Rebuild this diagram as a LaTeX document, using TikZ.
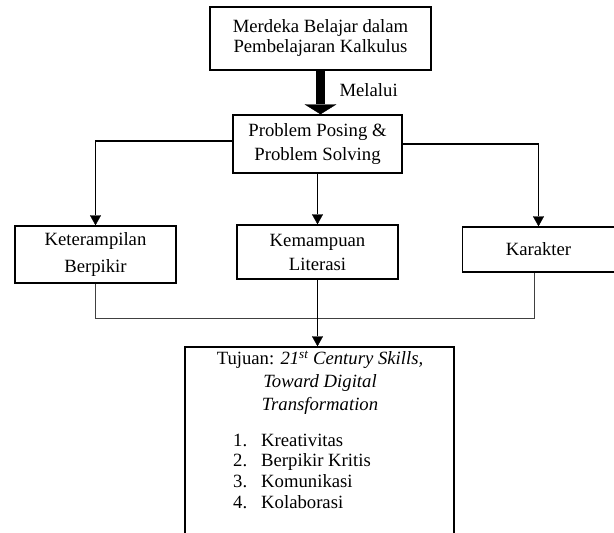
\documentclass[tikz,border=0pt]{standalone}
\usepackage{fontspec}
\setmainfont{Liberation Serif}
\usetikzlibrary{arrows.meta}
\begin{document}
\begin{tikzpicture}[x=1pt,y=-1pt,
  box/.style={draw, line width=1.4pt, inner sep=0pt, align=center},
  conn/.style={line width=1.5pt, -{Triangle[width=11pt,length=10pt,line width=0.4pt]}},
  joint/.style={line width=1pt, draw=black!75},
  txt/.style={font=\fontsize{18.7}{#1}\selectfont},
]
\useasboundingbox (0,0) rectangle (614,533);
\node[box, txt=20, minimum width=221pt, minimum height=63pt] (top) at (320.5,38.5) {Merdeka Belajar dalam\\Pembelajaran Kalkulus};
\node[box, txt=24, minimum width=169pt, minimum height=58pt] (mid) at (317.5,144) {Problem Posing \&\\Problem Solving};
\node[box, txt=27, minimum width=161pt, minimum height=57pt] (ket) at (95.5,254.5) {Keterampilan\\Berpikir};
\node[box, txt=24, minimum width=161pt, minimum height=54pt] (kem) at (317.5,252) {Kemampuan\\Literasi};
\node[box, txt=24, minimum width=152pt, minimum height=45pt] (kar) at (538.5,249.5) {Karakter};
\node[box, minimum width=269pt, minimum height=213pt] (goal) at (319.5,453.5) {};
\node[anchor=west, txt=22] (mel) at (336,90) {Melalui};
\node[align=center, txt=23, inner sep=0pt] (gt) at (320,383) {Tujuan: \textit{21\textsuperscript{st} Century Skills,}\\\textit{Toward Digital}\\\textit{Transformation}};
\node[anchor=west, txt=20.7, inner sep=0pt] (gl) at (233,473) {\begin{tabular}{@{}r@{\hspace{14pt}}l@{}}1. & Kreativitas\\2. & Berpikir Kritis\\3. & Komunikasi\\4. & Kolaborasi\end{tabular}};
\coordinate (j) at (0,318);
\draw[line width=9pt, -{Triangle[width=32pt,length=10pt,line width=0.4pt]}] (top.south) -- (top.south |- mid.north);
\draw[conn] ([yshift=3pt]mid.west) -| (ket.north);
\draw[conn] (mid.east) -| (kar.north);
\draw[conn] (mid.south) -- (kem.north);
\draw[joint] (ket.south) -- (ket.south |- j) -| ([xshift=-4.5pt]kar.south);
\draw[conn] (kem.south) -- (kem.south |- goal.north);
\end{tikzpicture}
\end{document}
